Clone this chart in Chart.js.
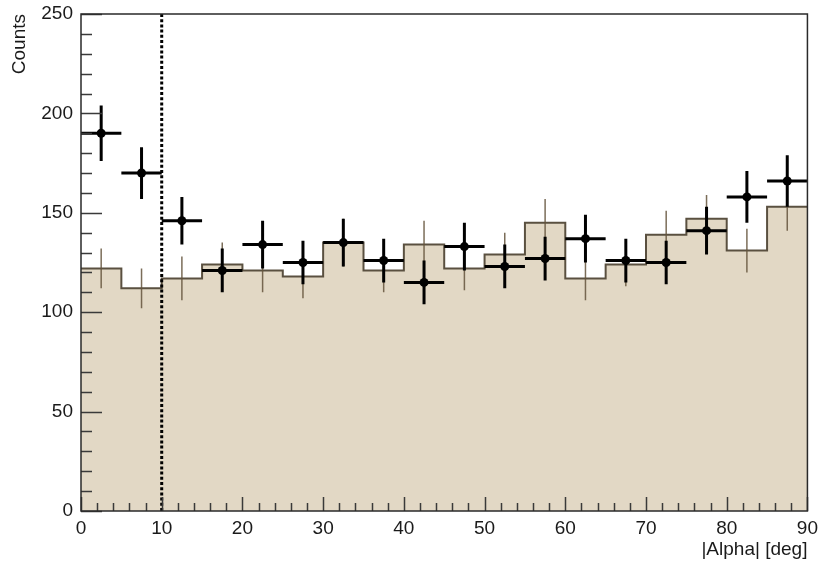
<!DOCTYPE html>
<html><head><meta charset="utf-8">
<script src="https://cdn.jsdelivr.net/npm/chart.js@4/dist/chart.umd.min.js"></script>
<style>html,body{margin:0;padding:0;background:#fff}#wrap{width:824px;height:563px;position:relative}</style>
</head><body><div id="wrap"><canvas id="c"></canvas></div>
<script>
// ---- data ----
const binEdges   = [0,5,10,15,20,25,30,35,40,45,50,55,60,65,70,75,80,85,90];
const binCenters = [2.5,7.5,12.5,17.5,22.5,27.5,32.5,37.5,42.5,47.5,52.5,57.5,62.5,67.5,72.5,77.5,82.5,87.5];
const mcCounts   = [122,112,117,124,121,118,135,121,134,122,129,145,117,124,139,147,131,153];
const mcErrors   = [10,10,11,11,11,11,12,11,12,11,11,12,11,11,12,12,11,12];
const dataCounts = [190,170,146,121,134,125,135,126,115,133,123,127,137,126,125,141,158,166];
const dataErrors = [14,13,12,11,12,11,12,11,11,12,11,11,12,11,11,12,13,13];
const binHalfWidth = 2.5;
const cutValue = 10;
const xTickStep = 10, xMinorStep = 2;
const yTickStep = 50, yMinorStep = 10;
const xMin = 0, xMax = 90, yMin = 0, yMax = 250;

const FONT = '"Liberation Sans", Arial, Helvetica, sans-serif';
const TXT = '#1a1a1a';

// step histogram: value of bin i held from edge i to edge i+1
const histPoints = binEdges.map((e,i)=>({x:e, y: mcCounts[Math.max(0, i-1)]}));
const dataPoints = binCenters.map((c,i)=>({x:c, y:dataCounts[i]}));
const cutLine = [{x:cutValue, y:yMin},{x:cutValue, y:yMax}];

const errPlugin = {
  id:'errs',
  afterDatasetDraw(chart, args){
    const {ctx, scales:{x,y}} = chart;
    if (args.index === 0) { // MC errors
      ctx.save();
      ctx.strokeStyle = 'rgba(100,84,60,0.85)';
      ctx.lineWidth = 1.5;
      ctx.beginPath();
      binCenters.forEach((c,i)=>{
        const px = x.getPixelForValue(c);
        ctx.moveTo(px, y.getPixelForValue(mcCounts[i]-mcErrors[i]));
        ctx.lineTo(px, y.getPixelForValue(mcCounts[i]+mcErrors[i]));
      });
      ctx.stroke();
      ctx.restore();
    }
  },
  beforeDatasetDraw(chart, args){
    const {ctx, scales:{x,y}} = chart;
    if (args.index === 1) { // data error bars
      ctx.save();
      ctx.strokeStyle = '#000';
      ctx.lineWidth = 3;
      ctx.lineCap = 'butt';
      ctx.beginPath();
      binCenters.forEach((c,i)=>{
        const px = x.getPixelForValue(c);
        const py = y.getPixelForValue(dataCounts[i]);
        ctx.moveTo(px, y.getPixelForValue(dataCounts[i]-dataErrors[i]));
        ctx.lineTo(px, y.getPixelForValue(dataCounts[i]+dataErrors[i]));
        ctx.moveTo(x.getPixelForValue(c-binHalfWidth), py);
        ctx.lineTo(x.getPixelForValue(c+binHalfWidth), py);
      });
      ctx.stroke();
      ctx.restore();
    }
  }
};

const framePlugin = {
  id:'frame',
  afterDraw(chart){
    const {ctx, chartArea:a, scales:{x,y}} = chart;
    ctx.save();
    ctx.strokeStyle = '#3a3a3a';
    ctx.lineWidth = 1.5;
    ctx.beginPath();
    for (let v = xMin; v <= xMax + 1e-9; v += xMinorStep) {
      const px = Math.round(x.getPixelForValue(v)) + 0.5;
      const len = (Math.abs(v % xTickStep) < 1e-9) ? 14 : 8;
      ctx.moveTo(px, a.bottom); ctx.lineTo(px, a.bottom - len);
    }
    for (let v = yMin; v <= yMax + 1e-9; v += yMinorStep) {
      const py = Math.round(y.getPixelForValue(v)) + 0.5;
      const len = (Math.abs(v % yTickStep) < 1e-9) ? 21 : 11;
      ctx.moveTo(a.left, py); ctx.lineTo(a.left + len, py);
    }
    ctx.stroke();
    ctx.strokeStyle = '#2a2a2a';
    ctx.lineWidth = 1.5;
    ctx.strokeRect(a.left, a.top, a.right - a.left, a.bottom - a.top);
    ctx.restore();
  }
};

new Chart(document.getElementById('c'), {
  type:'line',
  data:{ datasets:[
    { label:'MC', data:histPoints, stepped:'after', fill:'origin',
      backgroundColor:'#e2d8c5', borderColor:'#5a5040', borderWidth:2,
      pointRadius:0, order:3 },
    { type:'scatter', label:'Data', data:dataPoints, backgroundColor:'#000', borderColor:'#000',
      pointRadius:4.5, pointBorderWidth:0, showLine:false, order:2 },
    { label:'cut', data:cutLine, borderColor:'#000', borderWidth:3, borderDash:[3,2.2],
      pointRadius:0, fill:false, order:1 }
  ]},
  options:{
    responsive:true, maintainAspectRatio:false, animation:false,
    layout:{padding:{left:0, top:14, right:12, bottom:0}},
    plugins:{legend:{display:false}, tooltip:{enabled:false}},
    scales:{
      x:{ type:'linear', min:xMin, max:xMax,
        grid:{display:false, drawTicks:false}, border:{display:false},
        ticks:{stepSize:xTickStep, padding:6, color:TXT, font:{family:FONT, size:19}, maxRotation:0},
        title:{display:true, text:'|Alpha| [deg]', align:'end', color:TXT, font:{family:FONT, size:19}, padding:{top:0,bottom:2}},
        afterFit(s){ s.height = 52; }
      },
      y:{ type:'linear', min:yMin, max:yMax,
        grid:{display:true, drawOnChartArea:false, drawTicks:true, tickLength:8, tickColor:'rgba(0,0,0,0)'},
        border:{display:false},
        ticks:{stepSize:yTickStep, padding:0, color:TXT, font:{family:FONT, size:19}},
        title:{display:true, text:'Counts', align:'end', color:TXT, font:{family:FONT, size:19}, padding:{top:8,bottom:0}},
        afterFit(s){ s.width = 81; }
      }
    }
  },
  plugins:[errPlugin, framePlugin]
});
</script>
</body></html>
